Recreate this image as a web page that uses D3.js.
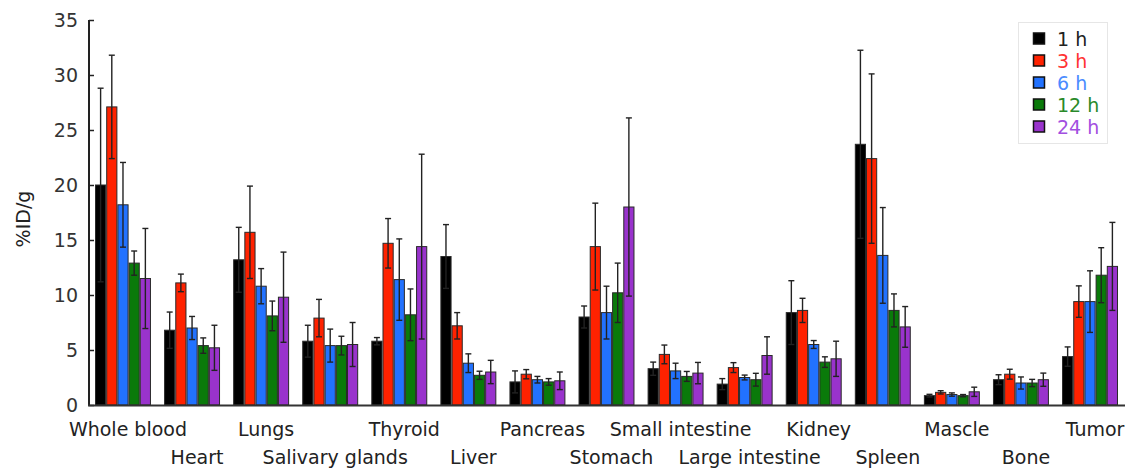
<!DOCTYPE html>
<html>
<head>
<meta charset="utf-8">
<script src="https://cdn.jsdelivr.net/npm/d3@7"></script>
<style>
  html, body { margin: 0; padding: 0; background: #fff; }
  svg { display: block; }
  text { font-family: "DejaVu Sans", sans-serif; }
</style>
</head>
<body>
<svg id="chart" width="1130" height="471"></svg>
<script>
// ---- data ----
const organs = ["Whole blood", "Heart", "Lungs", "Salivary glands", "Thyroid", "Liver", "Pancreas",
  "Stomach", "Small intestine", "Large intestine", "Kidney", "Spleen", "Mascle", "Bone", "Tumor"];
const timepoints = ["1 h", "3 h", "6 h", "12 h", "24 h"];

const mean1h  = [20.0, 6.8, 13.2, 5.8, 5.8, 13.5, 2.1, 8.0, 3.3, 1.9, 8.4, 23.7, 0.85, 2.3, 4.4];
const mean3h  = [27.1, 11.1, 15.7, 7.9, 14.7, 7.2, 2.8, 14.4, 4.6, 3.4, 8.6, 22.4, 1.15, 2.8, 9.4];
const mean6h  = [18.2, 7.0, 10.8, 5.4, 11.4, 3.8, 2.3, 8.4, 3.1, 2.5, 5.5, 13.6, 0.95, 2.0, 9.4];
const mean12h = [12.9, 5.4, 8.1, 5.4, 8.2, 2.7, 2.1, 10.2, 2.6, 2.3, 3.9, 8.6, 0.85, 2.0, 11.8];
const mean24h = [11.5, 5.2, 9.8, 5.5, 14.4, 3.0, 2.2, 18.0, 2.9, 4.5, 4.2, 7.1, 1.2, 2.3, 12.6];

const sd1h  = [8.8, 1.65, 2.95, 1.45, 0.33, 2.9, 1.0, 1.0, 0.6, 0.5, 2.9, 8.55, 0.12, 0.45, 0.88];
const sd3h  = [4.7, 0.8, 4.2, 1.7, 2.25, 1.2, 0.42, 3.95, 0.85, 0.45, 1.1, 7.7, 0.15, 0.45, 1.43];
const sd6h  = [3.85, 1.05, 1.6, 1.5, 3.7, 0.85, 0.3, 2.4, 0.7, 0.22, 0.36, 4.35, 0.15, 0.55, 2.8];
const sd12h = [1.1, 0.7, 1.35, 0.85, 2.35, 0.37, 0.3, 2.7, 0.45, 0.58, 0.48, 1.5, 0.1, 0.33, 2.5];
const sd24h = [4.55, 2.05, 4.1, 2.0, 8.4, 1.06, 0.8, 8.1, 0.97, 1.7, 1.6, 1.85, 0.42, 0.6, 4.0];

const yTicks = [0, 5, 10, 15, 20, 25, 30, 35];
const yLabel = "%ID/g";

// ---- styles ----
const barColors  = ["#000000", "#ff2200", "#2272ff", "#0a7a0a", "#9933cc"];
const textColors = ["#222222", "#ff3333", "#4a8cff", "#2a8a2a", "#a24fe0"];

const means = [mean1h, mean3h, mean6h, mean12h, mean24h];
const sds = [sd1h, sd3h, sd6h, sd12h, sd24h];

const svg = d3.select("#chart");

const x0 = d3.scaleBand().domain(organs).range([89, 1124]).paddingInner(0.19).paddingOuter(0.087);
const x1 = d3.scaleBand().domain(timepoints).range([0, x0.bandwidth()]).padding(0);
const y = d3.scaleLinear().domain([0, 35]).range([405, 20]);

// bars
const groups = svg.append("g").selectAll("g").data(organs).join("g")
  .attr("transform", d => `translate(${x0(d)},0)`);

groups.each(function(organ, oi) {
  const g = d3.select(this);
  timepoints.forEach((tp, ti) => {
    const v = means[ti][oi];
    const e = sds[ti][oi];
    const bx = x1(tp);
    const bw = x1.bandwidth();
    g.append("rect")
      .attr("x", bx + 0.5).attr("y", y(v))
      .attr("width", bw - 1).attr("height", y(0) - y(v))
      .attr("fill", barColors[ti]).attr("stroke", "#2a2a2a").attr("stroke-width", 1);
    const cx = bx + bw / 2;
    const eg = g.append("g").attr("stroke", "#222").attr("stroke-width", 1.4);
    eg.append("line").attr("x1", cx).attr("x2", cx).attr("y1", y(v - e)).attr("y2", y(v + e));
    eg.append("line").attr("x1", cx - 3).attr("x2", cx + 3).attr("y1", y(v + e)).attr("y2", y(v + e));
    eg.append("line").attr("x1", cx - 3).attr("x2", cx + 3).attr("y1", y(v - e)).attr("y2", y(v - e));
  });
});

// y axis
const yAxis = d3.axisRight(y).tickValues(yTicks).tickSize(5).tickFormat("");
const ya = svg.append("g").attr("transform", "translate(89,0)").call(yAxis);
ya.select(".domain").attr("stroke", "#222").attr("stroke-width", 2).attr("d", `M0,${y(35)}V${y(0)}`);
ya.selectAll(".tick line").attr("stroke", "#222").attr("stroke-width", 1.5);

svg.append("g").selectAll("text").data(yTicks).join("text")
  .attr("x", 78).attr("y", d => y(d)).attr("dy", "0.35em")
  .attr("text-anchor", "end").attr("font-size", 19).attr("fill", "#333")
  .text(d => d);

// x axis baseline
svg.append("line").attr("x1", 88).attr("x2", 1125).attr("y1", y(0) + 0.5).attr("y2", y(0) + 0.5)
  .attr("stroke", "#333").attr("stroke-width", 2);

// category labels, alternating rows
svg.append("g").selectAll("text").data(organs).join("text")
  .attr("x", d => x0(d) + x0.bandwidth() / 2 + 5)
  .attr("y", (d, i) => i % 2 === 0 ? 436 : 464)
  .attr("text-anchor", "middle").attr("font-size", 19).attr("fill", "#222")
  .text(d => d);

// y label
svg.append("text")
  .attr("transform", "translate(30,219) rotate(-90)")
  .attr("text-anchor", "middle").attr("font-size", 19).attr("fill", "#222")
  .text(yLabel);

// legend
const lg = svg.append("g");
lg.append("rect").attr("x", 1018.5).attr("y", 22.5).attr("width", 89).attr("height", 121)
  .attr("fill", "#fff").attr("stroke", "#e6e6e6");
timepoints.forEach((tp, i) => {
  const cy = 39 + i * 22;
  lg.append("rect").attr("x", 1033.5).attr("y", cy - 6).attr("width", 11).attr("height", 11)
    .attr("fill", barColors[i]).attr("stroke", "#111").attr("stroke-width", 1.5);
  lg.append("text").attr("x", 1057).attr("y", cy).attr("dy", "0.35em")
    .attr("font-size", 19).attr("fill", textColors[i]).text(tp);
});
</script>
</body>
</html>
